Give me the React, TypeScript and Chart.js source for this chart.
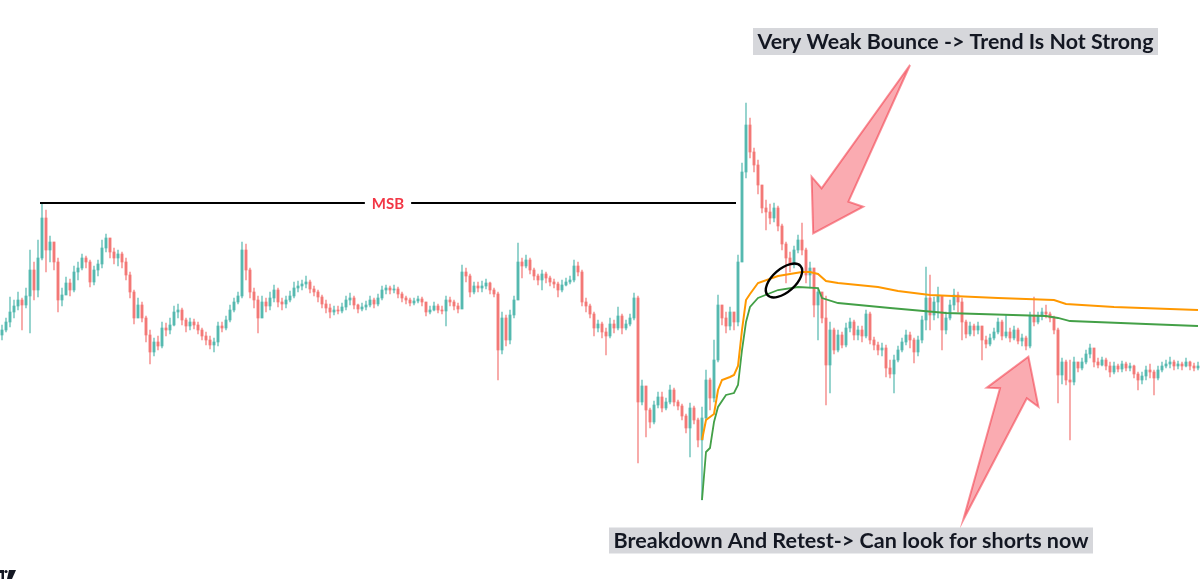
import { useEffect, useRef } from 'react';
import { Chart, registerables } from 'chart.js';

Chart.register(...registerables);

// ---------- data ----------
const OPEN_FIRST = 265;

const CLOSES = [
  270, 278, 288, 294, 300, 295, 304, 330, 310, 342,
  382, 350, 358, 338, 300, 305, 317, 310, 328, 332,
  342, 338, 318, 330, 336, 352, 362, 348, 342, 346,
  338, 325, 308, 282, 295, 282, 265, 248, 258, 254,
  272, 270, 275, 288, 290, 280, 274, 278, 275, 270,
  264, 260, 255, 258, 274, 272, 280, 290, 298, 304,
  350, 330, 308, 300, 282, 298, 294, 302, 310, 298,
  296, 300, 304, 312, 314, 316, 318, 311, 308, 303,
  296, 292, 288, 290, 289, 293, 300, 302, 295, 291,
  293, 295, 300, 296, 302, 310, 312, 310, 311, 306,
  302, 300, 297, 299, 301, 298, 288, 290, 294, 290,
  289, 300, 298, 294, 291, 328, 324, 308, 314, 312,
  314, 317, 310, 306, 250, 282, 260, 285, 300, 338,
  334, 340, 330, 324, 320, 326, 322, 318, 316, 310,
  315, 318, 320, 334, 328, 298, 294, 286, 272, 276,
  268, 264, 276, 272, 284, 272, 276, 282, 302, 198,
  214, 190, 178, 195, 203, 192, 198, 210, 198, 194,
  184, 172, 192, 180, 160, 182, 220, 202, 240, 295,
  282, 274, 288, 278, 338, 428, 475, 448, 435, 415,
  392, 388, 382, 392, 374, 356, 342, 335, 350, 360,
  350, 325, 332, 295, 308, 282, 235, 270, 250, 265,
  255, 272, 278, 265, 270, 264, 286, 260, 255, 250,
  252, 232, 226, 240, 250, 258, 265, 260, 248, 260,
  280, 302, 285, 298, 304, 270, 282, 295, 305, 298,
  278, 266, 274, 270, 274, 260, 256, 262, 268, 278,
  264, 268, 262, 270, 259, 262, 254, 284, 278, 284,
  288, 286, 282, 270, 225, 238, 220, 218, 238, 232,
  238, 246, 252, 238, 235, 240, 234, 228, 234, 231,
  236, 232, 234, 226, 220, 224, 230, 228, 222, 230,
  234, 236, 238, 234, 236, 234, 238, 234, 232, 234,
];

const HIGHS = [
  275, 282, 303, 300, 308, 302, 312, 350, 338, 360,
  397, 390, 364, 352, 342, 312, 323, 321, 334, 338,
  346, 344, 340, 334, 340, 360, 366, 360, 352, 350,
  348, 342, 328, 310, 302, 298, 284, 270, 262, 264,
  278, 277, 282, 294, 296, 292, 282, 282, 281, 278,
  272, 268, 264, 262, 278, 278, 284, 295, 302, 308,
  358, 356, 332, 312, 304, 304, 302, 308, 315, 312,
  302, 304, 309, 318, 319, 320, 324, 320, 314, 310,
  305, 300, 296, 294, 294, 297, 304, 307, 304, 296,
  297, 299, 304, 302, 306, 314, 315, 314, 315, 313,
  308, 304, 302, 302, 304, 303, 298, 294, 298, 296,
  294, 304, 303, 300, 297, 335, 332, 326, 318, 318,
  319, 321, 318, 312, 308, 288, 285, 290, 304, 357,
  342, 345, 342, 332, 326, 330, 328, 324, 321, 318,
  320, 322, 324, 340, 338, 330, 302, 296, 288, 280,
  278, 272, 282, 280, 293, 286, 280, 286, 307, 304,
  220, 214, 192, 199, 208, 208, 202, 215, 212, 200,
  196, 186, 197, 194, 182, 193, 230, 222, 260, 305,
  294, 288, 293, 285, 345, 437, 497, 482, 452, 440,
  414, 400, 396, 397, 394, 376, 358, 348, 354, 365,
  377, 352, 338, 330, 312, 304, 304, 278, 272, 270,
  268, 277, 282, 280, 274, 274, 290, 288, 263, 258,
  257, 255, 240, 245, 254, 262, 270, 268, 262, 264,
  284, 333, 325, 303, 313, 300, 288, 300, 311, 308,
  302, 280, 278, 276, 278, 274, 264, 266, 272, 282,
  280, 285, 272, 274, 272, 266, 264, 288, 303, 288,
  292, 295, 288, 284, 272, 242, 240, 240, 243, 238,
  242, 250, 256, 250, 242, 243, 242, 238, 238, 236,
  239, 238, 237, 235, 228, 228, 234, 236, 230, 234,
  238, 240, 243, 240, 239, 238, 242, 239, 237, 238,
];

const LOWS = [
  260, 268, 273, 282, 290, 270, 292, 267, 300, 303,
  340, 328, 338, 330, 288, 294, 305, 304, 308, 320,
  330, 332, 313, 315, 324, 332, 348, 342, 336, 334,
  332, 320, 302, 276, 285, 278, 258, 236, 244, 250,
  252, 264, 266, 274, 282, 275, 268, 270, 271, 266,
  260, 255, 251, 248, 254, 268, 270, 278, 288, 296,
  302, 320, 302, 292, 267, 282, 288, 290, 298, 293,
  290, 292, 298, 302, 308, 310, 312, 307, 304, 298,
  292, 287, 282, 285, 286, 287, 290, 295, 291, 287,
  289, 290, 293, 292, 294, 300, 306, 306, 307, 302,
  298, 296, 294, 295, 297, 294, 284, 286, 289, 287,
  286, 274, 294, 290, 287, 292, 318, 303, 306, 308,
  308, 311, 306, 303, 220, 246, 254, 256, 282, 300,
  322, 332, 326, 320, 315, 310, 317, 314, 312, 303,
  308, 314, 316, 318, 324, 294, 288, 282, 264, 268,
  262, 245, 262, 267, 270, 266, 270, 274, 280, 137,
  195, 163, 172, 176, 192, 188, 190, 196, 194, 190,
  180, 167, 143, 176, 153, 100, 180, 190, 198, 238,
  275, 267, 270, 270, 274, 338, 422, 442, 428, 406,
  387, 370, 376, 378, 369, 350, 317, 328, 332, 347,
  345, 317, 312, 283, 260, 277, 195, 207, 246, 248,
  252, 253, 268, 260, 260, 258, 262, 256, 250, 245,
  244, 223, 222, 207, 238, 248, 255, 252, 237, 244,
  257, 270, 270, 280, 282, 250, 266, 280, 290, 288,
  260, 262, 264, 264, 266, 240, 252, 254, 260, 266,
  260, 262, 258, 260, 256, 254, 250, 252, 274, 276,
  280, 282, 278, 266, 197, 216, 215, 160, 215, 228,
  230, 236, 242, 233, 232, 234, 230, 223, 226, 228,
  228, 229, 229, 222, 210, 216, 220, 222, 205, 220,
  228, 232, 232, 230, 231, 230, 233, 230, 229, 230,
];

// anchored VWAP-style bands: [candle index, price]
const ORANGE_LINE = [
  [175, 160], [176, 180], [178, 186], [179, 210], [180, 220], [182, 223],
  [183, 225], [184, 234], [185, 270], [186, 300], [187, 306], [189, 317],
  [194, 324], [200, 328], [202, 328], [204, 326], [206, 319], [209, 317],
  [219, 313], [224, 309], [232, 305], [249, 302], [263, 300], [266, 296],
  [278, 293], [299, 290],
];
const GREEN_LINE = [
  [175, 100], [176, 148], [177, 152], [178, 178], [179, 193], [181, 205],
  [183, 207], [184, 215], [185, 250], [186, 278], [187, 293], [189, 302],
  [194, 310], [199, 313], [204, 312], [205, 302], [209, 297], [222, 292],
  [236, 287], [261, 284], [264, 282], [267, 279], [286, 276], [299, 274],
];

// annotation anchors (candle index / price)
const MSB_INDEX = 10;
const MSB_SPAN = [9.5, 183.5];
const CIRCLE = { x: 195.5, y: 319.5 };
const ARROW_DOWN = [
  [227, 535], [211.6, 398.3], [215.3, 393.3], [202.8, 366.7], [202.4, 423.3], [204.9, 411.7],
];
const ARROW_UP = [
  [240.3, 80], [249.5, 211.7], [246.2, 212.3], [256.6, 243.3], [259.1, 193.3], [256.2, 201.7],
];
const LABELS = [
  { text: 'Very Weak Bounce -> Trend Is Not Strong', x0: 187.75, x1: 289, top: 572, bottom: 545 },
  { text: 'Breakdown And Retest-> Can look for shorts now', x0: 151.75, x1: 272.75, top: 72.5, bottom: 46.5 },
];

const UP = 'rgba(38,166,154,0.58)';
const DOWN = 'rgba(239,83,80,0.58)';

export default function App() {
  const ref = useRef<HTMLCanvasElement>(null);

  useEffect(() => {
    document.body.style.margin = '0';
    const canvas = ref.current;
    if (!canvas) return;

    const opens = CLOSES.map((c, i) => (i === 0 ? OPEN_FIRST : CLOSES[i - 1]));
    const isUp = CLOSES.map((c, i) => c >= opens[i]);
    const bodies = CLOSES.map((c, i) => ({ x: i, y: [opens[i], c] }));
    const wicks = CLOSES.map((c, i) => ({
      x: i,
      y: [Math.min(LOWS[i], opens[i], c), Math.max(HIGHS[i], opens[i], c)],
    }));

    const annotations = {
      id: 'annotations',
      afterDatasetsDraw(chart: any) {
        const { ctx } = chart;
        const xs = chart.scales.x;
        const ys = chart.scales.y;
        const px = (v: number) => xs.getPixelForValue(v);
        const py = (v: number) => ys.getPixelForValue(v);
        ctx.save();

        // MSB line + label
        const ly = py(HIGHS[MSB_INDEX]);
        const xa = px(MSB_SPAN[0]);
        const xb = px(MSB_SPAN[1]);
        const xm = (xa + xb) / 2;
        ctx.font = 'bold 15px Lato, "Open Sans", sans-serif';
        const mw = ctx.measureText('MSB').width;
        ctx.strokeStyle = '#000000';
        ctx.lineWidth = 2;
        ctx.beginPath();
        ctx.moveTo(xa, ly);
        ctx.lineTo(xm - mw / 2 - 7, ly);
        ctx.moveTo(xm + mw / 2 + 7, ly);
        ctx.lineTo(xb, ly);
        ctx.stroke();
        ctx.fillStyle = '#f23645';
        ctx.textAlign = 'center';
        ctx.textBaseline = 'alphabetic';
        ctx.fillText('MSB', xm, ly + 6);

        // ellipse
        ctx.strokeStyle = '#000000';
        ctx.lineWidth = 2.4;
        ctx.beginPath();
        ctx.ellipse(px(CIRCLE.x), py(CIRCLE.y), 22, 11.5, -0.72, 0, Math.PI * 2);
        ctx.stroke();

        // arrows
        const drawArrow = (pts: number[][]) => {
          ctx.beginPath();
          pts.forEach(([a, b], k) => {
            const X = px(a);
            const Y = py(b);
            if (k === 0) ctx.moveTo(X, Y);
            else ctx.lineTo(X, Y);
          });
          ctx.closePath();
          ctx.fillStyle = 'rgba(242,54,69,0.42)';
          ctx.fill();
          ctx.strokeStyle = 'rgba(242,54,69,0.55)';
          ctx.lineWidth = 2;
          ctx.lineJoin = 'miter';
          ctx.stroke();
        };
        drawArrow(ARROW_DOWN);
        drawArrow(ARROW_UP);

        // text labels
        LABELS.forEach((l) => {
          const x0 = px(l.x0);
          const x1 = px(l.x1);
          const y0 = py(l.top);
          const y1 = py(l.bottom);
          ctx.fillStyle = '#d6d7db';
          ctx.fillRect(x0, y0, x1 - x0, y1 - y0);
          ctx.font = 'bold 20px Lato, "Open Sans", sans-serif';
          const tw = ctx.measureText(l.text).width;
          const target = x1 - x0 - 9;
          ctx.save();
          ctx.translate(x0 + 4.5, (y0 + y1) / 2 + 7.5);
          ctx.scale(target / tw, 1);
          ctx.textAlign = 'left';
          ctx.fillStyle = '#131722';
          ctx.fillText(l.text, 0, 0);
          ctx.restore();
        });

        // small logo mark bottom-left
        ctx.fillStyle = '#131722';
        ctx.fillRect(0, 570, 4, 3);
        ctx.fillRect(1.5, 570, 2.5, 9);
        ctx.beginPath();
        ctx.arc(6, 571.5, 1.6, 0, Math.PI * 2);
        ctx.fill();
        ctx.beginPath();
        ctx.moveTo(9, 570);
        ctx.lineTo(16, 570);
        ctx.lineTo(12, 579);
        ctx.lineTo(7, 579);
        ctx.closePath();
        ctx.fill();

        ctx.restore();
      },
    };

    const chart = new Chart(canvas, {
      type: 'bar',
      data: {
        datasets: [
          {
            type: 'bar',
            label: 'wicks',
            data: wicks as any,
            backgroundColor: (c: any) => (isUp[c.dataIndex] ? UP : DOWN),
            barThickness: 1,
            grouped: false,
            order: 3,
          } as any,
          {
            type: 'bar',
            label: 'bodies',
            data: bodies as any,
            backgroundColor: (c: any) => (isUp[c.dataIndex] ? UP : DOWN),
            barThickness: 2.5,
            minBarLength: 1,
            grouped: false,
            order: 2,
          } as any,
          {
            type: 'line',
            label: 'upper',
            data: ORANGE_LINE.map(([x, y]) => ({ x, y })),
            borderColor: '#ff9800',
            borderWidth: 2,
            pointRadius: 0,
            tension: 0,
            order: 1,
          } as any,
          {
            type: 'line',
            label: 'lower',
            data: GREEN_LINE.map(([x, y]) => ({ x, y })),
            borderColor: '#43a047',
            borderWidth: 1.8,
            pointRadius: 0,
            tension: 0,
            order: 1,
          } as any,
        ],
      },
      options: {
        responsive: false,
        animation: false,
        devicePixelRatio: 1,
        events: [],
        layout: { padding: 0 },
        plugins: { legend: { display: false }, tooltip: { enabled: false } },
        scales: {
          x: { type: 'linear', min: -0.5, max: 299.5, display: false, offset: false },
          y: { min: 21, max: 600, display: false },
        },
      } as any,
      plugins: [annotations],
    });

    return () => chart.destroy();
  }, []);

  return (
    <div style={{ position: 'absolute', left: 0, top: 0, width: 1200, height: 579, background: '#ffffff' }}>
      <canvas ref={ref} width={1200} height={579} style={{ display: 'block' }} />
    </div>
  );
}
